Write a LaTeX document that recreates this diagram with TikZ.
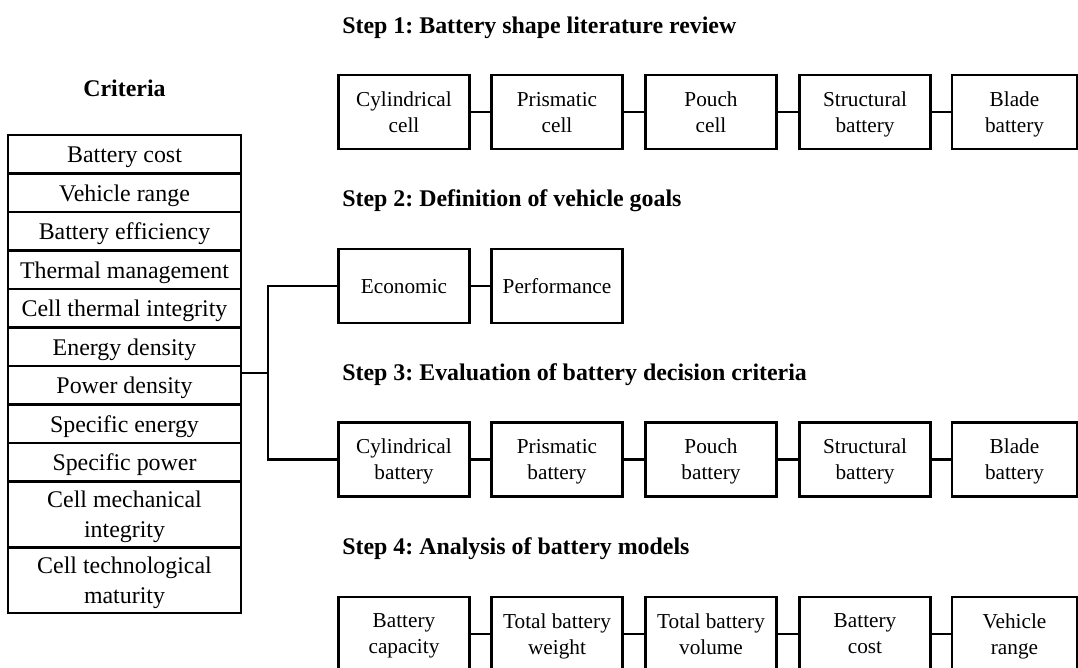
\documentclass[tikz,border=0pt]{standalone}
\usepackage{fontspec}
\setmainfont{Liberation Serif}
\newcommand{\diagfont}{\fontsize{13.6}{17}\selectfont}
\newcommand{\boxfont}{\fontsize{12.1}{14.8}\selectfont}
\tikzset{
  link/.style={line width=1.2pt},
  box/.style={draw,line width=1.2pt,minimum width=2.62cm,minimum height=1.48cm,align=center,inner sep=1pt,text depth=0pt,font=\boxfont},
  crit/.style={draw,line width=1.2pt,minimum width=4.65cm,align=center,inner sep=0pt,text depth=0pt,font=\diagfont},
  steptitle/.style={anchor=base west,inner sep=0pt,font=\diagfont\bfseries}
}

\begin{document}
\frenchspacing
\begin{tikzpicture}[x=0.02cm,y=-0.02cm]
\useasboundingbox (0,0) rectangle (1078,668);
% criteria table
\node[steptitle,anchor=base] (crith) at (124.5,97) {Criteria};
\foreach \i/\y/\h/\t in {1/154.25/38.5/Battery cost,2/192.75/38.5/Vehicle range,3/231.25/38.5/Battery efficiency,
  4/269.75/38.5/Thermal management,5/308.25/38.5/Cell thermal integrity,6/346.75/38.5/Energy density,
  7/385.25/38.5/Power density,8/423.75/38.5/Specific energy,9/462.25/38.5/Specific power,
  10/514.5/66/{Cell mechanical\\integrity},11/580.25/65.5/{Cell technological\\maturity}}
  \node[crit,minimum height=\h*0.02cm] (c\i) at (124.5,\y) {\t};

% step titles
\node[steptitle] (t1) at (342,34) {Step 1: Battery shape literature review};
\node[steptitle] (t2) at (342,207) {Step 2: Definition of vehicle goals};
\node[steptitle] (t3) at (342,381) {Step 3: Evaluation of battery decision criteria};
\node[steptitle] (t4) at (342,554) {Step 4: Analysis of battery models};

% step 1
\foreach \j/\x/\w/\t in {1/404/2.62/{Cylindrical\\cell},2/557/2.62/{Prismatic\\cell},3/711/2.62/{Pouch\\cell},
  4/865/2.62/{Structural\\battery},5/1014.5/2.5/{Blade\\battery}}
  \node[box,minimum width=\w cm] (a\j) at (\x,112) {\t};
% step 2
\node[box] (b1) at (404,286) {Economic};
\node[box] (b2) at (557,286) {Performance};
% step 3
\foreach \j/\x/\w/\t in {1/404/2.62/{Cylindrical\\battery},2/557/2.62/{Prismatic\\battery},3/711/2.62/{Pouch\\battery},
  4/865/2.62/{Structural\\battery},5/1014.5/2.5/{Blade\\battery}}
  \node[box,minimum width=\w cm] (d\j) at (\x,459.5) {\t};
% step 4
\foreach \j/\x/\w/\t in {1/404/2.62/{Battery\\capacity},2/557/2.62/{Total battery\\weight},3/711/2.62/{Total battery\\volume},
  4/865/2.62/{Battery\\cost},5/1014.5/2.5/{Vehicle\\range}}
  \node[box,minimum width=\w cm] (e\j) at (\x,634) {\t};

% connectors
\foreach \p/\q in {1/2,2/3,3/4,4/5}{
  \draw[link] (a\p.east) -- (a\q.west);
  \draw[link] (d\p.east) -- (d\q.west);
  \draw[link] (e\p.east) -- (e\q.west);
}
\draw[link] (b1.east) -- (b2.west);
\coordinate (fork) at (268,372.75);
\draw[link] (b1.west) -| (fork) |- (d1.west);
\draw[link] (fork) -- (fork -| c7.east);
\end{tikzpicture}
\end{document}
